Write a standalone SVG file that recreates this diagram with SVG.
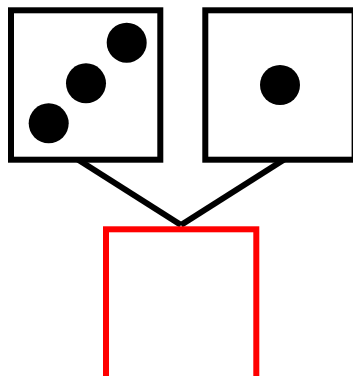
<svg xmlns="http://www.w3.org/2000/svg" width="353" height="376" viewBox="0 0 353 376">
<style>
.die{fill:#fff;stroke:#000;stroke-width:6}
.pip{fill:#000}
.conn{fill:none;stroke:#000;stroke-width:6}
.target{fill:#fff;stroke:#f00;stroke-width:6}
</style>
<rect width="353" height="376" fill="#fff"/>
<g id="connectors">
<line class="conn" x1="77" y1="159" x2="181" y2="225"/>
<line class="conn" x1="285" y1="159" x2="181" y2="225"/>
</g>
<g id="die-three">
<rect class="die" x="11" y="10.3" width="149.3" height="149.4"/>
<circle class="pip" cx="126.7" cy="42.7" r="20"/>
<circle class="pip" cx="86" cy="83.3" r="20"/>
<circle class="pip" cx="48.7" cy="123.3" r="20"/>
</g>
<g id="die-one">
<rect class="die" x="205.3" y="10.3" width="149.3" height="149.4"/>
<circle class="pip" cx="280" cy="85" r="20"/>
</g>
<g id="target">
<rect class="target" x="106" y="229.3" width="150.3" height="152"/>
</g>
</svg>
